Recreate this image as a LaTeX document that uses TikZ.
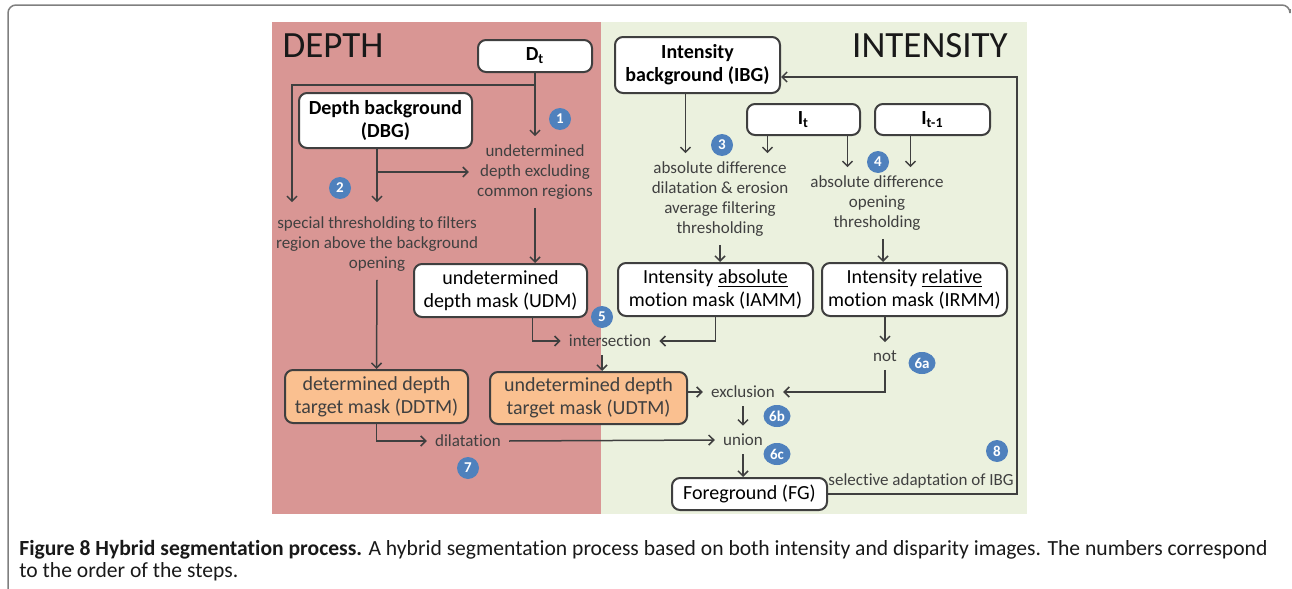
\documentclass[tikz,border=0pt]{standalone}
\usepackage{fontspec}
\setmainfont{Carlito}[Ligatures=NoCommon]
\usetikzlibrary{arrows.meta,shapes.geometric}
\definecolor{depthred}{HTML}{D99694}
\definecolor{intgreen}{HTML}{EBF1DE}
\definecolor{maskorange}{HTML}{FAC090}
\definecolor{stepblue}{HTML}{4F81BD}
\definecolor{linegray}{HTML}{3F3F3F}
\definecolor{labgray}{HTML}{404040}
\definecolor{framegray}{HTML}{7F7F7F}
\newcommand\bxfont{\fontsize{10}{11.5}\selectfont}
\newcommand\lbfont{\fontsize{8.5}{10}\selectfont}
\newcommand\nmfont{\fontsize{7.5}{8}\selectfont\bfseries}
\newcommand\ttlfont{\fontsize{18.5}{20}\selectfont}
\newcommand\capfont{\fontsize{10.8}{11}\selectfont}
\begin{document}
\begin{tikzpicture}[x=0.5pt,y=-0.5pt,>={Straight Barb[length=2.5pt,width=5pt]},
    box/.style={draw=linegray,line width=1pt,rounded corners=4pt,fill=white,align=center,inner sep=0pt,font=\bxfont},
    lab/.style={text=labgray,align=center,inner sep=4pt,font=\lbfont},
    num/.style={circle,fill=stepblue,text=white,inner sep=0pt,minimum size=11pt,font=\nmfont},
    numw/.style={num,ellipse,minimum width=13.5pt,minimum height=11pt},
    conn/.style={draw=linegray,line width=.75pt}]
        \useasboundingbox(0,0)rectangle(1292,589);
        \draw[framegray,line width=.75pt,rounded corners=4pt](8,589)--(8,5)--(1290,5)--(1290,9);
        \fill[depthred](272,22)rectangle(601,514);
        \fill[intgreen](601,22)rectangle(1027,514);
        \node[font=\ttlfont,text=black!90](depth)at(333,46){DEPTH};
        \node[font=\ttlfont,text=black!90](intensity)at(930,46){INTENSITY};
        \node[box,minimum width=57pt,minimum height=16pt,font=\bxfont\bfseries](Dt)at(535,56){D\textsubscript{t}};
        \node[box,minimum width=86.5pt,minimum height=27.5pt,font=\bxfont\bfseries](DBG)at(385.5,120.5){Depth background\\(DBG)};
        \node[box,minimum width=82.5pt,minimum height=28pt,font=\bxfont\bfseries](IBG)at(697.5,65){Intensity\\background (IBG)};
        \node[box,minimum width=56.5pt,minimum height=15.5pt,font=\bxfont\bfseries](It)at(803.5,119.5){I\textsubscript{t}};
        \node[box,minimum width=57.5pt,minimum height=15.5pt,font=\bxfont\bfseries](It1)at(932.5,119.5){I\textsubscript{t-1}};
        \node[box,minimum width=86.5pt,minimum height=26.5pt](UDM)at(500.5,290.5){undetermined\\depth mask (UDM)};
        \node[box,minimum width=97.5pt,minimum height=26.5pt](IAMM)at(715.5,289.5){Intensity \underline{absolute}\\motion mask (IAMM)};
        \node[box,minimum width=92.5pt,minimum height=26.5pt](IRMM)at(914.5,289.5){Intensity \underline{relative}\\motion mask (IRMM)};
        \node[box,fill=maskorange,text=labgray,minimum width=91.5pt,minimum height=26.5pt](DDTM)at(376.5,396.5){determined depth\\target mask (DDTM)};
        \node[box,fill=maskorange,text=labgray,minimum width=98.5pt,minimum height=26pt](UDTM)at(588.5,398){undetermined depth\\target mask (UDTM)};
        \node[box,minimum width=77.5pt,minimum height=16pt](FG)at(749.5,494){Foreground (FG)};
        \node[lab](UDE)at(535,172){undetermined\\depth excluding\\common regions};
        \node[lab](ST)at(377,244){special thresholding to filters\\region above the background\\opening};
        \node[lab](AD)at(720,199){absolute difference\\dilatation \& erosion\\average filtering\\thresholding};
        \node[lab](RD)at(877,203){absolute difference\\opening\\thresholding};
        \node[lab](X)at(610,341){intersection};
        \node[lab](N)at(885,356){not};
        \node[lab](E)at(743,392){exclusion};
        \node[lab](U)at(743,440){union};
        \node[lab](Dil)at(468,441){dilatation};
        \node[lab,inner sep=1pt](SA)at(921,481){selective adaptation of IBG};
        \coordinate(d1)at(292,85);
        \coordinate(r)at(1017,77);
        \draw[conn,->](Dt.south)--(UDE.north);
        \draw[conn,->,shorten >=3pt](Dt.south|-d1)--(d1)--(d1|-ST.north);
        \draw[conn,->,shorten >=3pt](ST.north|-DBG.south)--(ST.north);
        \draw[conn,->](ST.north|-UDE.west)--(UDE.west);
        \draw[conn,->](ST.south)--(DDTM.north);
        \draw[conn,->](UDE.south)--(UDE.south|-UDM.north);
        \draw[conn,->]([xshift=16pt]UDM.south)|-(X.west);
        \draw[conn,->](IAMM.south)|-(X.east);
        \draw[conn,->]([xshift=-4pt]X.south)--([xshift=-4pt]X.south|-UDTM.north);
        \draw[conn,->]([xshift=-6pt]IBG.south)--([xshift=-6pt]IBG.south|-AD.north);
        \draw[conn,->]([xshift=-18pt]It.south)--([xshift=-18pt]It.south|-AD.north);
        \draw[conn,->]([xshift=22pt]It.south)--([xshift=22pt]It.south|-RD.north);
        \draw[conn,->]([xshift=-11pt]It1.south)--([xshift=-11pt]It1.south|-RD.north);
        \draw[conn,->](AD.south)--(AD.south|-IAMM.north);
        \draw[conn,->]([xshift=3pt]RD.south)--([xshift=3pt]RD.south|-IRMM.north);
        \draw[conn,->](N.north|-IRMM.south)--(N.north);
        \draw[conn,->](N.south)|-(E.east);
        \draw[conn,->](UDTM.east|-E.west)--(E.west);
        \draw[conn,->](E.south)--(U.north);
        \draw[conn,->](DDTM.south)|-(Dil.west);
        \draw[conn,->](Dil.east)--(U.west);
        \draw[conn,->](U.south)--(U.south|-FG.north);
        \draw[conn,->](FG.east)-|(r)--(r-|IBG.east);
        \node[num](c1)at(560,119){1};
        \node[num](c2)at(340,188){2};
        \node[num](c3)at(722,145){3};
        \node[num](c4)at(878,162){4};
        \node[num](c5)at(602,317){5};
        \node[numw](c6a)at(922,363){6a};
        \node[numw](c6b)at(777,416){6b};
        \node[numw](c6c)at(777,454){6c};
        \node[num](c7)at(468,468){7};
        \node[num](c8)at(997,451){8};
        \node[anchor=north west,align=left,font=\capfont,text=black!90,inner sep=0pt](cap)at(19,540){\textbf{Figure 8 Hybrid segmentation process.} A hybrid segmentation process based on both intensity and disparity images. The numbers correspond\\to the order of the steps.};
    \end{tikzpicture}
\end{document}
